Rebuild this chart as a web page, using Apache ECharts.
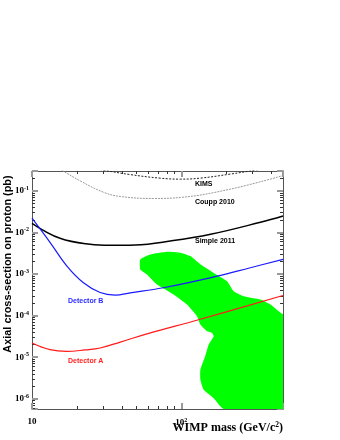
<!DOCTYPE html>
<html>
<head>
<meta charset="utf-8">
<script src="https://cdn.jsdelivr.net/npm/echarts@6/dist/echarts.min.js"></script>
<style>
  html, body { margin: 0; padding: 0; background: #fff; }
  #chart { width: 340px; height: 440px; }
</style>
</head>
<body>
<div id="chart"></div>
<script>
// axis ranges: WIMP mass (GeV/c^2) and cross-section (pb)
const massRange = [10, 480];
const xsecRange = [5.7e-7, 0.3];

// exclusion curves
const kimsMass = [27, 30, 45.5, 72, 98.5, 134, 213, 314, 400];
const kimsXsec = [0.34, 0.315, 0.246, 0.202, 0.191, 0.202, 0.253, 0.315, 0.37];

const couppMass = [13, 15.8, 21, 30, 39, 65, 98.5, 213, 480];
const couppXsec = [0.47, 0.315, 0.174, 0.093, 0.0733, 0.0656, 0.0693, 0.11, 0.233];

const simpleMass = [10, 15.4, 24.5, 33.4, 49, 84.4, 157, 339, 480];
const simpleXsec = [0.0166, 0.00723, 0.00518, 0.0049, 0.005, 0.00622, 0.00903, 0.0176, 0.0249];

const detBMass = [10, 13.2, 17.2, 22, 28.6, 36, 45.5, 75.7, 174, 290, 480];
const detBXsec = [0.022, 0.00579, 0.00153, 0.000628, 0.00036, 0.000313, 0.000354, 0.000468, 0.000891, 0.00142, 0.00225];

const detAMass = [10, 13.2, 17.1, 22.7, 28.6, 39, 58.9, 134, 480];
const detAXsec = [2.2e-5, 1.52e-5, 1.38e-5, 1.5e-5, 1.67e-5, 2.31e-5, 3.64e-5, 8.2e-5, 3.05e-4];

// allowed region outline (green blob), clockwise from top-left
const regionMass = [53.1, 61.9, 80.2, 98.5, 114.9, 134.2, 164, 202.6, 224.4, 262, 339, 395.5, 461.6, 480,
  480, 192.3, 164.8, 141.2, 134.2, 134.2, 144.9, 152.5, 164.8, 160.7, 148.7, 134.2, 127.4, 109.2, 88.8, 68.7, 58.9, 53.1];
const regionXsec = [2.25e-3, 2.97e-3, 3.45e-3, 3.27e-3, 2.7e-3, 1.71e-3, 1.08e-3, 6.75e-4, 3.87e-4, 2.93e-4, 2.44e-4, 1.85e-4, 1.17e-4, 1.06e-4,
  5.7e-7, 5.7e-7, 1.04e-6, 1.65e-6, 2.87e-6, 5.0e-6, 1.09e-5, 2.0e-5, 3.18e-5, 3.85e-5, 4.2e-5, 6.1e-5, 9.66e-5, 1.85e-4, 3.22e-4, 5.62e-4, 9.8e-4, 1.29e-3];

const pairs = (xs, ys) => xs.map((x, i) => [x, ys[i]]);

const myChart = echarts.init(document.getElementById('chart'));

const powLabel = (v) => {
  const e = Math.round(Math.log10(v));
  if (e === 1) return '{b|10}';
  return '{b|10}{e|' + e + '}';
};
const powRich = {
  b: { fontFamily: 'Liberation Serif', fontWeight: 'bold', fontSize: 9, color: '#000' },
  e: { fontFamily: 'Liberation Serif', fontWeight: 'bold', fontSize: 6, color: '#000', verticalAlign: 'top', padding: [0, 0, 5, 0] }
};

const frameAxis = (extra) => Object.assign({
  type: 'log',
  logBase: 10,
  axisLine: { show: true, lineStyle: { color: '#555', width: 1 } },
  axisTick: { show: true, inside: true, length: 6, lineStyle: { color: '#999', width: 2 } },
  minorTick: { show: true, splitNumber: 9, length: 3, lineStyle: { color: '#333', width: 1 } },
  splitLine: { show: false },
  minorSplitLine: { show: false }
}, extra);

const option = {
  animation: false,
  backgroundColor: '#fff',
  grid: { left: 32, right: 57, top: 171, bottom: 31, containLabel: false, outerBoundsMode: 'none' },
  xAxis: [
    frameAxis({
      min: massRange[0], max: massRange[1],
      position: 'bottom',
      axisLabel: { formatter: powLabel, rich: powRich, margin: 8, showMaxLabel: false },
      name: 'WIMP mass (GeV/c{s|2})',
      nameLocation: 'end',
      nameGap: 0,
      nameMoveOverlap: false,
      nameTextStyle: {
        fontFamily: 'Liberation Serif', fontWeight: 'bold', fontSize: 12, color: '#000',
        align: 'right', verticalAlign: 'top', padding: [12, 0, 0, 0],
        rich: { s: { fontFamily: 'Liberation Serif', fontWeight: 'bold', fontSize: 7.5, verticalAlign: 'top', padding: [0, 0, 6, 0] } }
      }
    }),
    frameAxis({
      min: massRange[0], max: massRange[1],
      position: 'top',
      axisLabel: { show: false }
    })
  ],
  yAxis: [
    frameAxis({
      min: xsecRange[0], max: xsecRange[1],
      position: 'left',
      axisLabel: { formatter: powLabel, rich: powRich, margin: 3, showMaxLabel: false, showMinLabel: false },
      name: 'Axial cross-section on proton (pb)',
      nameLocation: 'middle',
      nameGap: 19,
      nameMoveOverlap: false,
      nameTextStyle: {
        fontFamily: 'Liberation Sans', fontWeight: 'bold', fontSize: 10.9, color: '#000',
        padding: [0, 0, 0, 52]
      }
    }),
    frameAxis({
      min: xsecRange[0], max: xsecRange[1],
      position: 'right',
      axisLabel: { show: false }
    })
  ],
  graphic: [
    { type: 'text', left: 195, top: 181, style: { text: 'KIMS', fill: '#000', font: 'bold 7px "Liberation Sans"' } },
    { type: 'text', left: 195, top: 199, style: { text: 'Coupp 2010', fill: '#000', font: 'bold 7px "Liberation Sans"' } },
    { type: 'text', left: 195, top: 238, style: { text: 'Simple 2011', fill: '#000', font: 'bold 7px "Liberation Sans"' } },
    { type: 'text', left: 68, top: 298, style: { text: 'Detector B', fill: '#2b2bff', font: 'bold 7px "Liberation Sans"' } },
    { type: 'text', left: 68, top: 358, style: { text: 'Detector A', fill: '#ff2020', font: 'bold 7px "Liberation Sans"' } }
  ],
  series: [
    {
      name: 'Allowed region',
      type: 'custom',
      clip: true,
      data: [[100, 1e-4]],
      renderItem: (params, api) => {
        const pts = regionMass.map((m, i) => api.coord([m, regionXsec[i]]));
        return {
          type: 'polygon',
          shape: { points: pts, smooth: 0.15 },
          style: { fill: '#00ff00', stroke: null }
        };
      }
    },
    {
      name: 'KIMS', type: 'line', data: pairs(kimsMass, kimsXsec),
      showSymbol: false, smooth: 0.4, clip: true,
      lineStyle: { color: '#222', width: 1, type: [2, 1.5] }
    },
    {
      name: 'Coupp 2010', type: 'line', data: pairs(couppMass, couppXsec),
      showSymbol: false, smooth: 0.4, clip: true,
      lineStyle: { color: '#999', width: 1, type: [2, 1] }
    },
    {
      name: 'Simple 2011', type: 'line', data: pairs(simpleMass, simpleXsec),
      showSymbol: false, smooth: 0.4, clip: true,
      lineStyle: { color: '#000', width: 1.5 }
    },
    {
      name: 'Detector B', type: 'line', data: pairs(detBMass, detBXsec),
      showSymbol: false, smooth: 0.4, clip: true,
      lineStyle: { color: '#1a1aff', width: 1.2 }
    },
    {
      name: 'Detector A', type: 'line', data: pairs(detAMass, detAXsec),
      showSymbol: false, smooth: 0.4, clip: true,
      lineStyle: { color: '#ff1a1a', width: 1.2 }
    }
  ]
};

myChart.setOption(option);

window.addEventListener('resize', () => {
  myChart.resize();
});
</script>
</body>
</html>
